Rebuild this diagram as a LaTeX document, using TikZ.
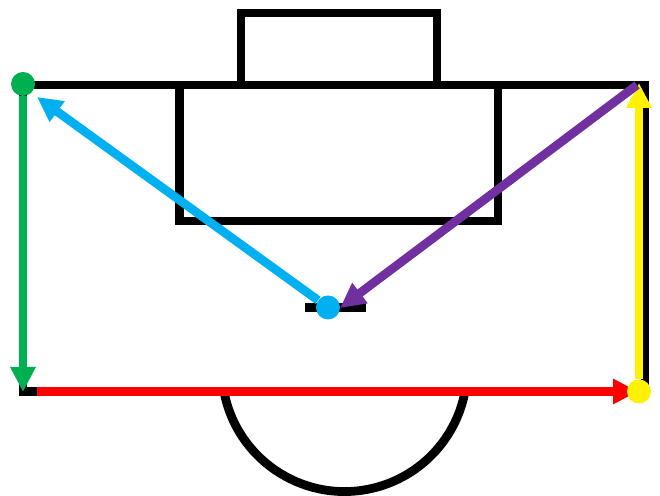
\documentclass[tikz,border=0pt]{standalone}
\usetikzlibrary{arrows.meta}
\definecolor{runGreen}{HTML}{00B050}
\definecolor{runCyan}{HTML}{00B0F0}
\definecolor{runPurple}{HTML}{7030A0}
\begin{document}
\begin{tikzpicture}[
  x=0.02cm, y=0.02cm,
  pitchline/.style = {draw=black, line width=0.175cm},
  runarrow/.style = {line width=0.175cm, -{Triangle[length=0.5cm, width=0.48cm]}},
  rundot/.style = {circle, inner sep=0pt, minimum size=0.48cm}
]
  \useasboundingbox (0,0) rectangle (660,496);
  % pitch
  \draw[pitchline] (23,411) rectangle (645,104.5);
  \draw[pitchline] (179.5,411) rectangle (498,275);
  \draw[pitchline] (241,411) -- (241,483) -- (437,483) -- (437,411);
  \draw[pitchline] (305,188.5) -- (366,188.5);
  \draw[pitchline] (224,104.5) arc (190.6:349.4:122.6);
  % end points
  \coordinate (redstart) at (37,104.5);
  \coordinate (redend) at (638,104.5);
  \coordinate (yellowend) at (639,413);
  \coordinate (greenend) at (23,104);
  \coordinate (cyanend) at (37,399);
  \coordinate (purplestart) at (637,411);
  \coordinate (purpleend) at (340,188);
  % dots
  \node[rundot] (yellowdot) at (639,104.5) {};
  \node[rundot] (greendot) at (23,412) {};
  \node[rundot] (cyandot) at (328,188.5) {};
  % runs
  \draw[runarrow, red] (redstart) -- (redend);
  \draw[runarrow, yellow] (yellowdot) -- (yellowend);
  \draw[runarrow, runGreen] (greendot) -- (greenend);
  \draw[runarrow, runCyan] (cyandot) -- (cyanend);
  \fill[yellow] (yellowdot) circle (12);
  \fill[runGreen] (greendot) circle (12);
  \fill[runCyan] (cyandot) circle (12);
  \draw[runarrow, runPurple] (purplestart) -- (purpleend);
\end{tikzpicture}
\end{document}
